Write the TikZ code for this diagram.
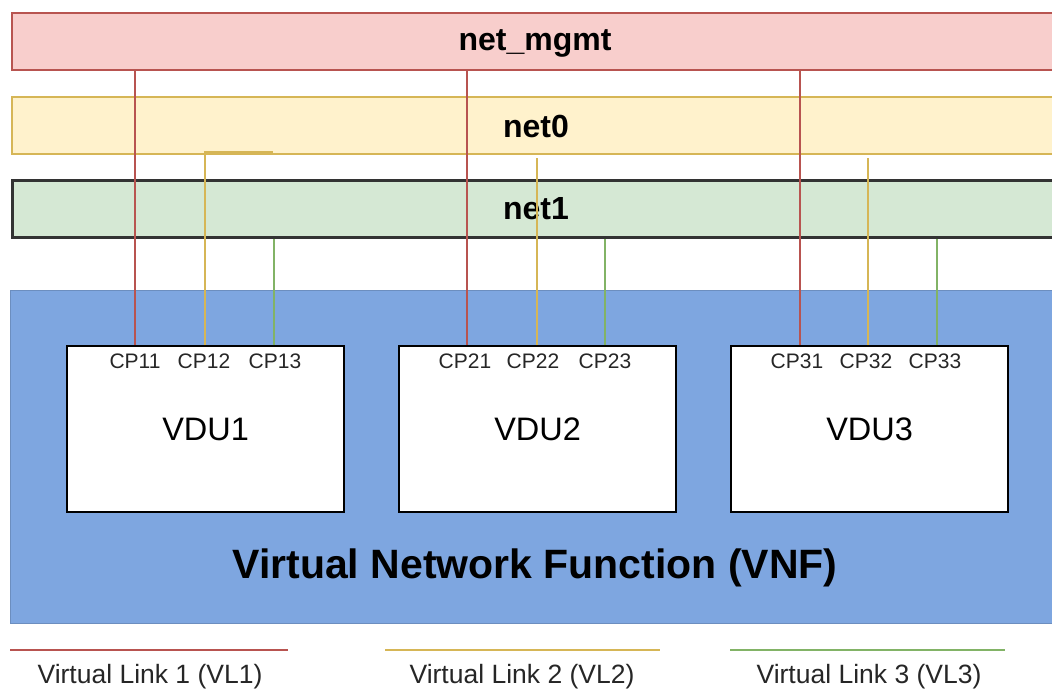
\documentclass[tikz,border=0pt]{standalone}
\usepackage{fontspec}
\setmainfont{Liberation Sans}
\definecolor{redF}{HTML}{F8CECC}
\definecolor{redS}{HTML}{B85450}
\definecolor{yelF}{HTML}{FFF2CC}
\definecolor{yelS}{HTML}{D6B656}
\definecolor{grnF}{HTML}{D5E8D4}
\definecolor{grnS}{HTML}{82B366}
\definecolor{bluF}{HTML}{7EA6E0}
\definecolor{bluS}{HTML}{6C8EBF}
\begin{document}
\begin{tikzpicture}[x=1pt,y=-1pt,
  bar/.style={rectangle, line width=2.4pt, minimum width=1051pt, minimum height=57pt, anchor=north west, inner sep=0pt},
  bartxt/.style={font=\fontsize{32}{36}\selectfont\bfseries, inner sep=0pt},
  vdubox/.style={rectangle, draw=black, line width=2.2pt, fill=white, minimum width=277pt, minimum height=166pt, anchor=north west, inner sep=0pt},
  vdutxt/.style={font=\fontsize{32.5}{36}\selectfont, inner sep=0pt},
  cplab/.style={font=\fontsize{21}{24}\selectfont, inner sep=0pt, text=black!85},
  vlred/.style={draw=redS, line width=1.8pt},
  vlyel/.style={draw=yelS, line width=1.8pt},
  vlgrn/.style={draw=grnS, line width=1.8pt},
  legline/.style={line width=2.6pt},
  legtxt/.style={font=\fontsize{26.5}{30}\selectfont, inner sep=0pt, text=black!85},
]
\useasboundingbox (0,0) rectangle (1052,691);
\clip (0,0) rectangle (1052,691);

% network bars
\node[bar, fill=redF, draw=redS] (netm) at (11,12) {};
\node[bar, fill=yelF, draw=yelS] (net0) at (11,96) {};
\node[bar, fill=grnF, draw=black!80, line width=2.6pt] (net1) at (11,179) {};
\node[bartxt] (tm) at (535,43) {net\_mgmt};
\node[bartxt] (t0) at (536,126) {net0};
\node[bartxt] (t1) at (536,209) {net1};

% VNF
\node[rectangle, fill=bluF, draw=bluS, line width=1pt, minimum width=1052pt, minimum height=333pt, anchor=north west] (vnf) at (10,290) {};
\node[font=\fontsize{41}{46}\selectfont\bfseries, inner sep=0pt] (vnft) at (535,568) {Virtual Network Function (VNF)};

% VDUs
\node[vdubox] (vdu1) at (66,345) {};
\node[vdubox] (vdu2) at (398,345) {};
\node[vdubox] (vdu3) at (730,345) {};
\node[vdutxt] (v1) at (vdu1.center) {VDU1};
\node[vdutxt] (v2) at (vdu2.center) {VDU2};
\node[vdutxt] (v3) at (vdu3.center) {VDU3};

% connection points
\coordinate (p11) at (135,345);
\coordinate (p12) at (205,345);
\coordinate (p13) at (274,345);
\coordinate (p21) at (467,345);
\coordinate (p22) at (537,345);
\coordinate (p23) at (605,345);
\coordinate (p31) at (800,345);
\coordinate (p32) at (868,345);
\coordinate (p33) at (937,345);

\node[cplab] (cp11) at (135,361) {CP11};
\node[cplab] (cp12) at (204,361) {CP12};
\node[cplab] (cp13) at (275,361) {CP13};
\node[cplab] (cp21) at (465,361) {CP21};
\node[cplab] (cp22) at (533,361) {CP22};
\node[cplab] (cp23) at (605,361) {CP23};
\node[cplab] (cp31) at (797,361) {CP31};
\node[cplab] (cp32) at (866,361) {CP32};
\node[cplab] (cp33) at (935,361) {CP33};

% virtual links
\draw[vlred] (p11) -- (p11 |- netm.south);
\draw[vlred] (p21) -- (p21 |- netm.south);
\draw[vlred] (p31) -- (p31 |- netm.south);
\coordinate (y12e) at (273,152);
\draw[vlyel] (p12) |- (y12e);
\draw[vlyel] (p22) -- ([yshift=-3pt]p22 |- net0.south);
\draw[vlyel] (p32) -- ([yshift=-3pt]p32 |- net0.south);
\draw[vlgrn] (p13) -- (p13 |- net1.south);
\draw[vlgrn] (p23) -- (p23 |- net1.south);
\draw[vlgrn] (p33) -- (p33 |- net1.south);

% legend
\coordinate (l1a) at (10,650); \coordinate (l1b) at (288,650);
\coordinate (l2a) at (385,650); \coordinate (l2b) at (660,650);
\coordinate (l3a) at (730,650); \coordinate (l3b) at (1005,650);
\draw[legline, draw=redS] (l1a) -- (l1b);
\draw[legline, draw=yelS] (l2a) -- (l2b);
\draw[legline, draw=grnS] (l3a) -- (l3b);
\node[legtxt] (lg1) at (150,677) {Virtual Link 1 (VL1)};
\node[legtxt] (lg2) at (522,677) {Virtual Link 2 (VL2)};
\node[legtxt] (lg3) at (869,677) {Virtual Link 3 (VL3)};
\end{tikzpicture}
\end{document}
